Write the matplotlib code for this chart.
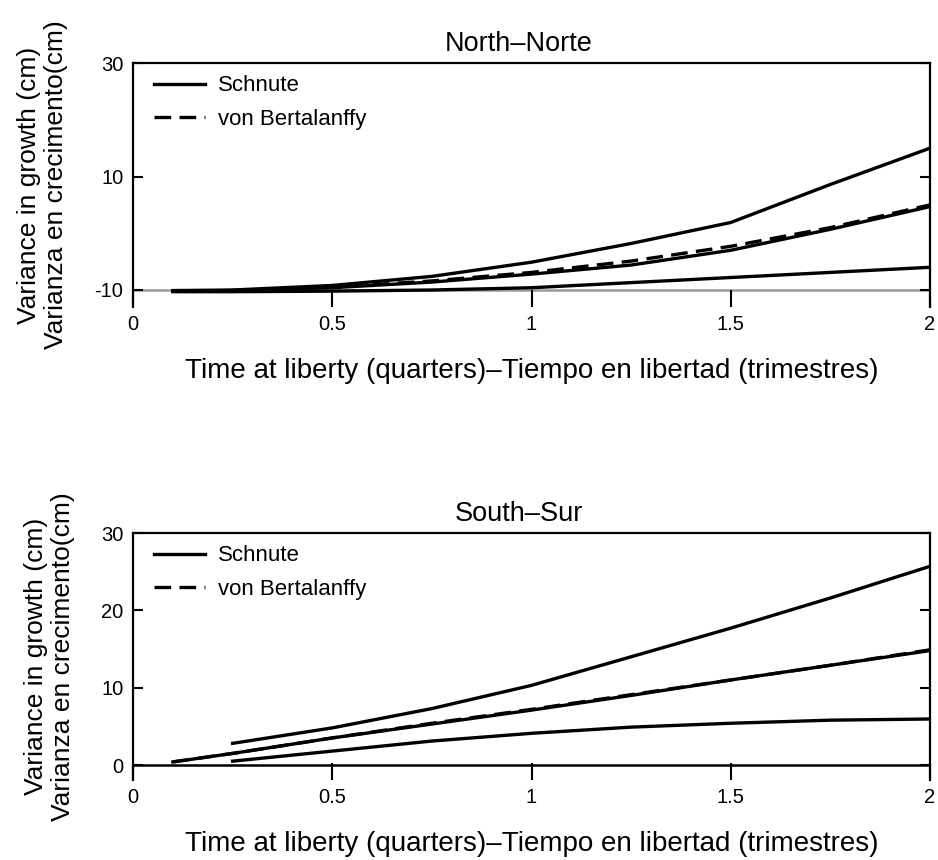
import matplotlib
matplotlib.use("Agg")
import matplotlib.pyplot as plt

plt.rcParams.update(
    {
        "font.family": ["Liberation Sans", "DejaVu Sans"],
        "font.size": 14,
        "axes.linewidth": 1.6,
        "axes.unicode_minus": False,
    }
)

# North-Norte panel
north_x = [0.1, 0.25, 0.5, 0.75, 1.0, 1.25, 1.5, 1.75, 2.0]
north_schnute_upper = [-10.1, -10.0, -9.2, -7.6, -5.1, -1.8, 1.9, 8.6, 15.0]
north_schnute_mid = [-10.2, -10.1, -9.6, -8.6, -7.2, -5.6, -3.0, 0.7, 4.7]
north_vb_mid = [-10.2, -10.1, -9.5, -8.4, -6.9, -4.9, -2.3, 1.0, 5.0]
north_schnute_lower = [-10.3, -10.3, -10.2, -10.0, -9.6, -8.7, -7.8, -6.9, -6.0]

# South-Sur panel
south_x_full = [0.1, 0.25, 0.5, 0.75, 1.0, 1.25, 1.5, 1.75, 2.0]
south_x_late = [0.25, 0.5, 0.75, 1.0, 1.25, 1.5, 1.75, 2.0]
south_schnute_upper = [2.8, 4.8, 7.3, 10.3, 14.0, 17.7, 21.6, 25.7]
south_schnute_mid = [0.4, 1.5, 3.5, 5.3, 7.1, 9.0, 11.0, 12.9, 14.8]
south_vb_mid = [0.4, 1.5, 3.5, 5.4, 7.2, 9.1, 11.0, 12.9, 14.9]
south_schnute_lower = [0.5, 1.8, 3.1, 4.1, 4.9, 5.4, 5.8, 5.95]

x_ticks = [0, 0.5, 1, 1.5, 2]
x_tick_labels = ["0", "0.5", "1", "1.5", "2"]
north_yticks = [-10, 10, 30]
south_yticks = [0, 10, 20, 30]

xlabel = "Time at liberty (quarters)\u2013Tiempo en libertad (trimestres)"
ylabel = "Variance in growth (cm)\nVarianza en crecimento(cm)"

fig = plt.figure(figsize=(9.38, 8.6), dpi=100)
ax_n = fig.add_axes([0.1418, 0.643, 0.8497, 0.2837])
ax_s = fig.add_axes([0.1418, 0.093, 0.8497, 0.2872])

lw = 2.4
dash = (0, (5, 2.5))

ax_n.axhline(-10, color="#9a9a9a", linewidth=1.8, zorder=1)
schnute_n, = ax_n.plot(north_x, north_schnute_mid, color="black", linewidth=lw)
vb_n, = ax_n.plot(north_x, north_vb_mid, color="black", linewidth=lw, linestyle=dash)
ax_n.plot(north_x, north_schnute_upper, color="black", linewidth=lw)
ax_n.plot(north_x, north_schnute_lower, color="black", linewidth=lw)

ax_s.axhline(0, color="black", linewidth=1.8, zorder=1)
schnute_s, = ax_s.plot(south_x_full, south_schnute_mid, color="black", linewidth=lw)
vb_s, = ax_s.plot(south_x_full, south_vb_mid, color="black", linewidth=lw, linestyle=dash)
ax_s.plot(south_x_late, south_schnute_upper, color="black", linewidth=lw)
ax_s.plot(south_x_late, south_schnute_lower, color="black", linewidth=lw)


def finish(ax, title, ylim, yticks, handles):
    ax.set_xlim(0, 2)
    ax.set_ylim(*ylim)
    ax.spines["bottom"].set_visible(False)
    ax.set_xticks(x_ticks)
    ax.set_xticklabels(x_tick_labels)
    ax.set_yticks(yticks)
    ax.tick_params(axis="x", direction="in", length=12, width=1.5, pad=6, labelsize=14.5)
    ax.tick_params(axis="y", direction="in", length=7, width=1.5, pad=7,
                   labelsize=14.5, right=True)
    ax.set_title(title, fontsize=19.5, pad=9, x=0.484)
    ax.set_xlabel(xlabel, fontsize=20, labelpad=17)
    ax.set_ylabel(ylabel, fontsize=19, linespacing=1.15, labelpad=19)
    ax.legend(handles=handles, labels=["Schnute", "von Bertalanffy"],
              loc="upper left", bbox_to_anchor=(0.012, 0.995), frameon=False,
              fontsize=16, handlelength=2.3, handletextpad=0.6,
              labelspacing=0.55, borderaxespad=0.1)


finish(ax_n, "North\u2013Norte", (-13.0, 30), north_yticks, [schnute_n, vb_n])
finish(ax_s, "South\u2013Sur", (-1.94, 30), south_yticks, [schnute_s, vb_s])

fig.savefig("out.png", dpi=100)
